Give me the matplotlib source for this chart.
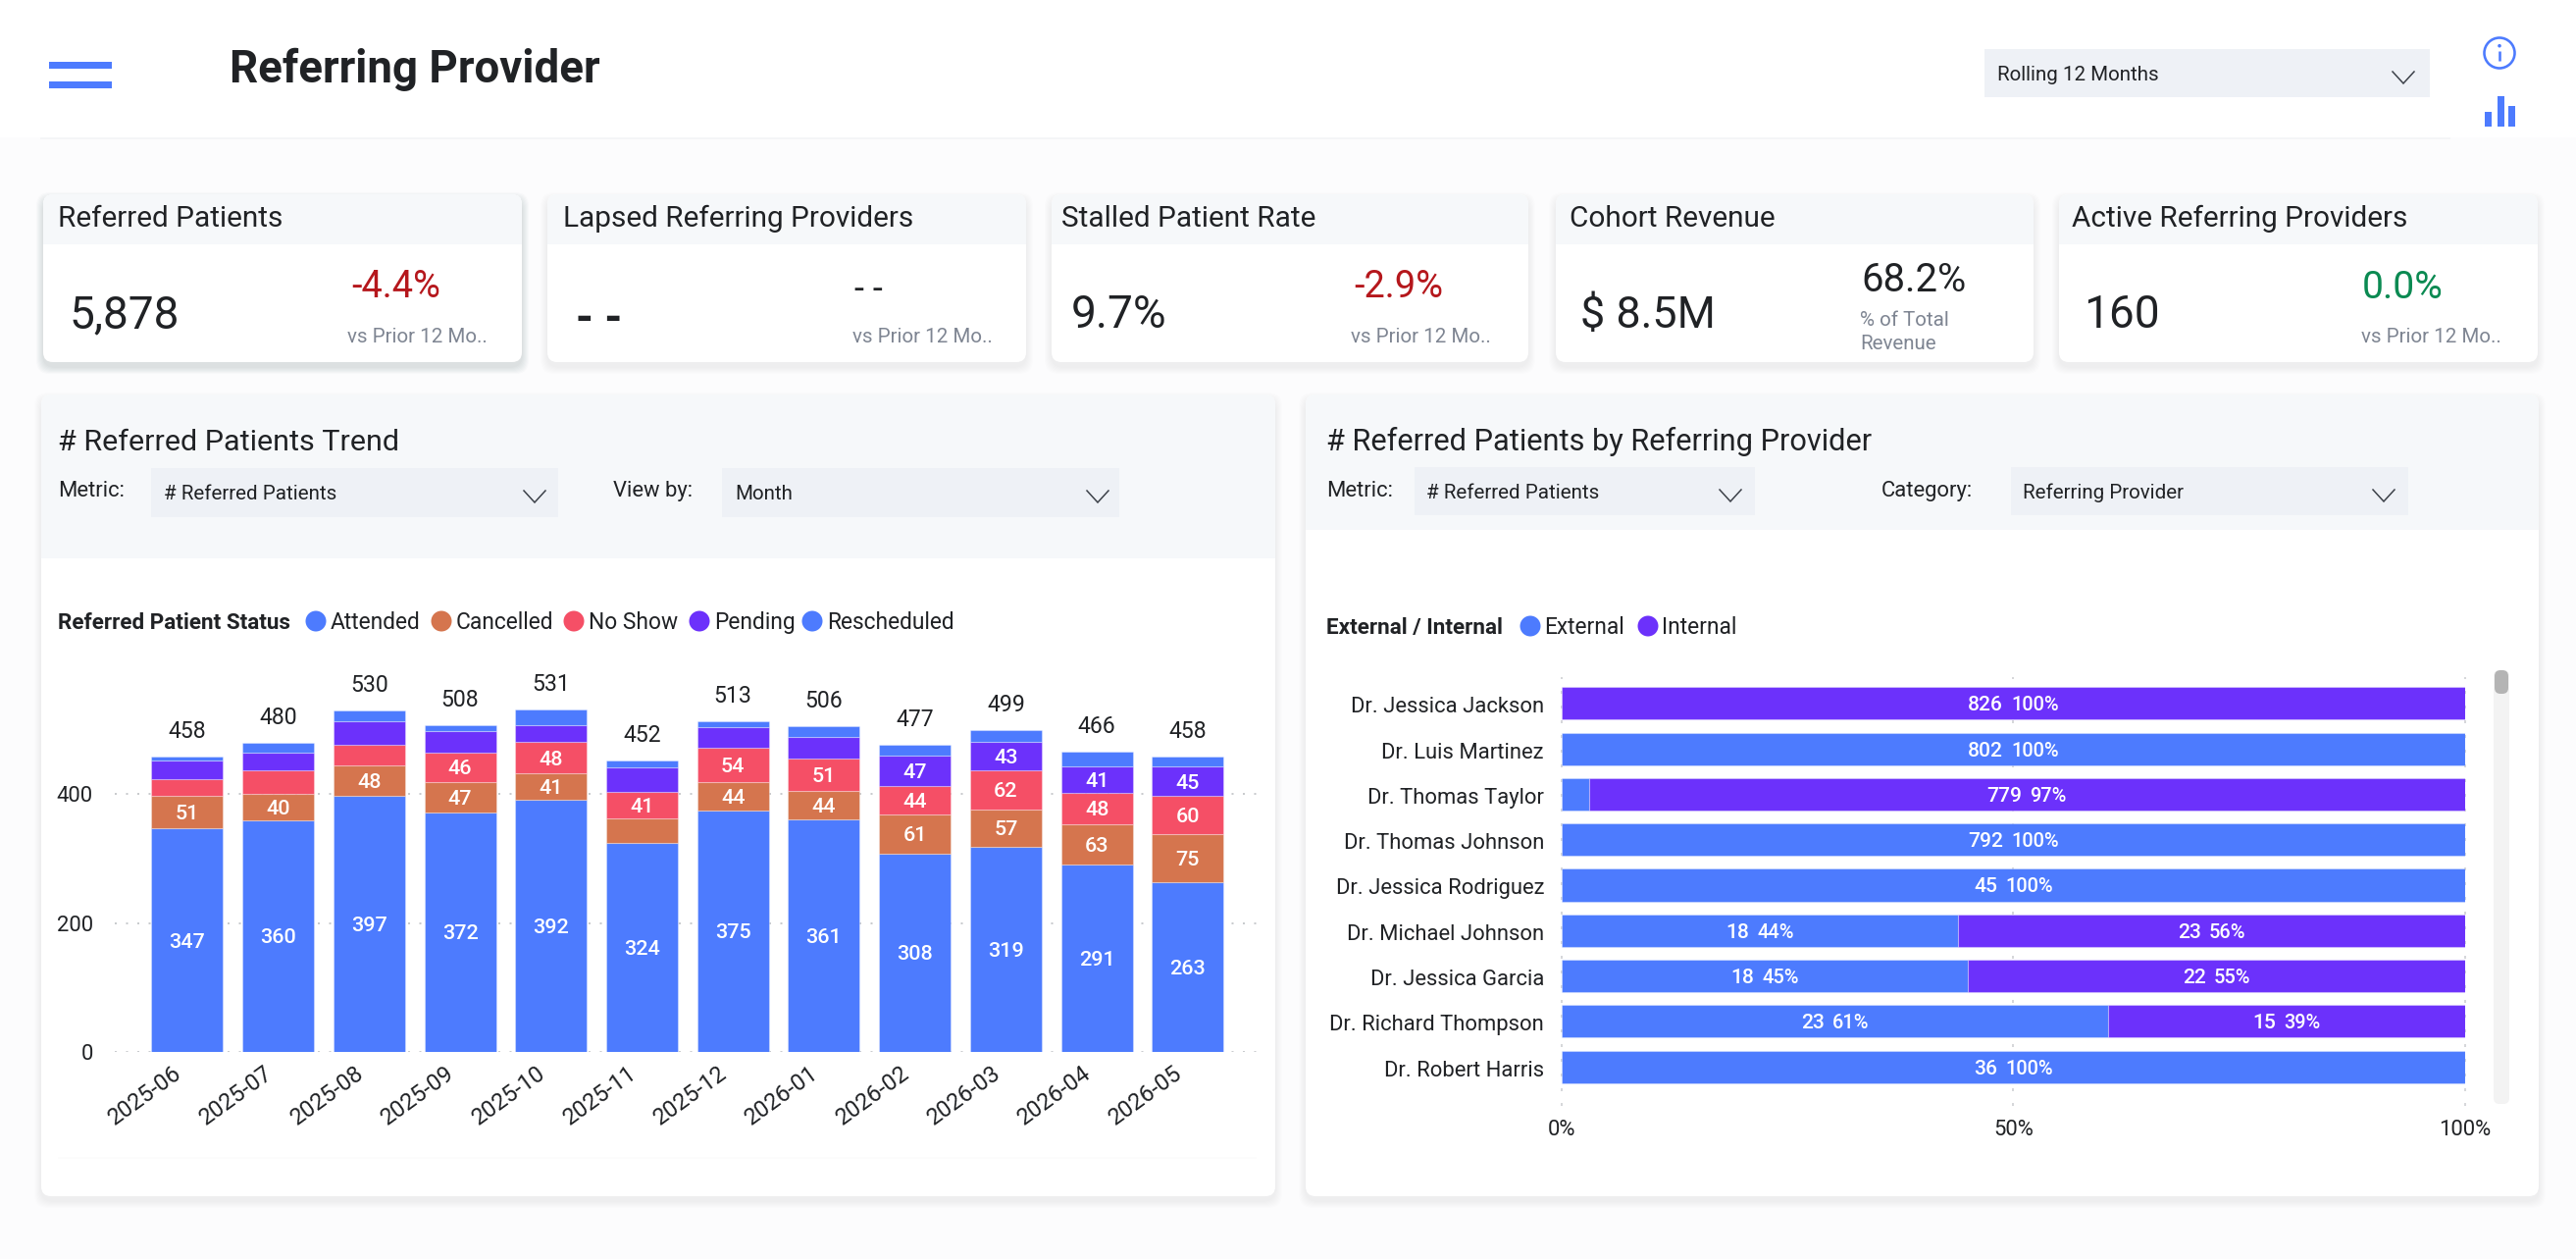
#!/usr/bin/env python
import matplotlib
matplotlib.use('Agg')
import matplotlib.pyplot as plt
import numpy as np
from matplotlib.patches import FancyBboxPatch, Rectangle, Circle
from matplotlib.transforms import ScaledTranslation

W, H = 2626, 1283

months = ['2025-06', '2025-07', '2025-08', '2025-09', '2025-10', '2025-11',
          '2025-12', '2026-01', '2026-02', '2026-03', '2026-04', '2026-05']
attended = [347, 360, 397, 372, 392, 324, 375, 361, 308, 319, 291, 263]
cancelled = [51, 40, 48, 47, 41, 39, 44, 44, 61, 57, 63, 75]
no_show = [26, 38, 32, 46, 48, 41, 54, 51, 44, 62, 48, 60]
pending = [28, 27, 36, 33, 27, 38, 32, 33, 47, 43, 41, 45]
rescheduled = [6, 15, 17, 10, 23, 10, 8, 17, 17, 18, 23, 15]
y_ticks = [0, 200, 400]

providers = ['Dr. Jessica Jackson', 'Dr. Luis Martinez', 'Dr. Thomas Taylor',
             'Dr. Thomas Johnson', 'Dr. Jessica Rodriguez', 'Dr. Michael Johnson',
             'Dr. Jessica Garcia', 'Dr. Richard Thompson', 'Dr. Robert Harris']
external = [0, 802, 24, 792, 45, 18, 18, 23, 36]
internal = [826, 0, 779, 0, 0, 23, 22, 15, 0]

BLUE = '#4D7BFE'
ORANGE = '#D5754E'
RED = '#F54F66'
PURPLE = '#6C31FB'
INK = '#202225'
GREY = '#7E8592'
HEAD = '#F6F8FA'
DROP = '#EEF1F6'
SEAM = (1, 1, 1, 0.3)

plt.rcParams['font.family'] = ['Roboto', 'DejaVu Sans']
fig = plt.figure(figsize=(W / 100, H / 100), dpi=100, facecolor='#FCFCFD')

# page layer, in pixel coordinates with y going down
bg = fig.add_axes([0, 0, 1, 1], zorder=0)
bg.set_xlim(0, W)
bg.set_ylim(H, 0)
bg.axis('off')


def pt(px):
    return px * 0.72


def txt(x, y, s, size, color=INK, weight='normal', ha='left'):
    # y is the middle of the capitals
    return bg.text(x, y + 0.355 * size, s, fontsize=pt(size), color=color,
                   weight=weight, ha=ha, va='baseline')


def card(x0, y0, x1, y1, head_to, shadow=0.006):
    for grow in range(14, 0, -2):
        bg.add_patch(FancyBboxPatch((x0 - grow / 2, y0 - grow / 2 + 5), x1 - x0 + grow, y1 - y0 + grow,
                                    boxstyle='round,pad=0,rounding_size=14', fc='#20304A',
                                    ec='none', alpha=shadow))
    face = FancyBboxPatch((x0, y0), x1 - x0, y1 - y0, boxstyle='round,pad=0,rounding_size=10',
                          fc='white', ec='none')
    bg.add_patch(face)
    top = Rectangle((x0, y0), x1 - x0, head_to - y0, fc=HEAD, ec='none')
    bg.add_patch(top)
    top.set_clip_path(face)


def chevron(x, y):
    bg.plot([x - 11, x, x + 11], [y - 6, y + 6, y - 6], color='#3A3F47', lw=pt(1.5),
            solid_joinstyle='miter')


def dropdown(x0, y0, x1, y1, label, label_x, label_y, chev_x, chev_y):
    bg.add_patch(Rectangle((x0, y0), x1 - x0, y1 - y0, fc=DROP, ec='none'))
    txt(label_x, label_y, label, 20.5)
    chevron(chev_x, chev_y)


# header strip
bg.add_patch(Rectangle((0, 0), W, 140, fc='white', ec='none'))
bg.plot([42, 2497], [140.5, 140.5], color='#F4F5F7', lw=pt(2))
for y0 in (63, 83):
    bg.add_patch(Rectangle((50, y0), 64, 6.5, fc=BLUE, ec='none'))
txt(234, 68, 'Referring Provider', 45.7, weight='bold')
dropdown(2023, 50, 2477, 99, 'Rolling 12 Months', 2036, 75, 2450, 79)

# info and chart icons
bg.add_patch(Circle((2548, 54), 15.5, fc='none', ec=BLUE, lw=pt(2.6)))
bg.plot([2548, 2548], [51.7, 61.7], color=BLUE, lw=pt(2.6), solid_capstyle='butt')
bg.add_patch(Circle((2548, 46.7), 1.8, fc=BLUE, ec='none'))
for x0, y0 in ((2533, 114), (2545.7, 97.7), (2557.3, 107.7)):
    bg.add_patch(Rectangle((x0, y0), 7, 129.3 - y0, fc=BLUE, ec='none'))

# KPI cards
card(44, 198, 532, 369, 249, shadow=0.018)
card(558, 198, 1046, 369, 249)
card(1072, 198, 1558, 369, 249)
card(1586, 198, 2073, 369, 249)
card(2099, 198, 2587, 369, 249)

txt(59, 220, 'Referred Patients', 29.7)
txt(574, 220, 'Lapsed Referring Providers', 29.7)
txt(1082, 220, 'Stalled Patient Rate', 29.7)
txt(1600, 220, 'Cohort Revenue', 29.7)
txt(2112, 220, 'Active Referring Providers', 29.7)

txt(71, 318, '5,878', 46)
txt(587, 323, '- -', 46, weight='bold')
txt(1092, 318, '9.7%', 46)
txt(1611, 318, '$ 8.5M', 45)
txt(2124, 318, '160', 46)

txt(358, 290, '-4.4%', 38, color='#B5171C')
txt(871, 293, '- -', 36)
txt(1380, 290, '-2.9%', 38, color='#B5171C')
txt(1897, 283, '68.2%', 40)
txt(2408, 290, '0.0%', 39, color='#0B8A52')

for x in (354, 869, 1377, 2407):
    txt(x, 342, 'vs Prior 12 Mo..', 20.5, color=GREY)
txt(1896, 325, '% of Total', 20.5, color=GREY)
txt(1896, 349, 'Revenue', 20.5, color=GREY)

# chart panels
card(42, 402, 1300, 1219, 569)
card(1331, 402, 2588, 1219, 540)
bg.plot([60, 1280], [1180, 1180], color='#FCFCFC', lw=pt(2))

txt(59, 448, '# Referred Patients Trend', 30.5)
txt(59, 498, 'Metric:', 22)
dropdown(154, 477, 569, 527, '# Referred Patients', 167, 502, 545, 506)
txt(625, 498, 'View by:', 22)
dropdown(736, 477, 1141, 527, 'Month', 749, 502, 1119, 506)

txt(1352, 448, '# Referred Patients by Referring Provider', 30.8)
txt(1352, 498, 'Metric:', 22)
dropdown(1442, 476, 1789, 525, '# Referred Patients', 1454, 501, 1764, 505)
txt(1918, 498, 'Category:', 22)
dropdown(2050, 476, 2455, 525, 'Referring Provider', 2062, 501, 2430, 505)

# legends
txt(59, 633, 'Referred Patient Status', 22.5, weight='bold')
status = ['Attended', 'Cancelled', 'No Show', 'Pending', 'Rescheduled']
status_colors = [BLUE, ORANGE, RED, PURPLE, BLUE]
status_x = [322, 450, 585, 713, 828]
for name, col, x in zip(status, status_colors, status_x):
    bg.add_patch(Circle((x, 633), 10.5, fc=col, ec='none'))
    txt(x + 15, 633, name, 22.8)

txt(1352, 638, 'External / Internal', 22.5, weight='bold')
for name, col, x in zip(['External', 'Internal'], [BLUE, PURPLE], [1560, 1680]):
    bg.add_patch(Circle((x, 638), 10.5, fc=col, ec='none'))
    txt(x + 14, 638, name, 22.8)

# scrollbar next to the provider rows
bg.add_patch(FancyBboxPatch((2542, 683), 16, 442, boxstyle='round,pad=0,rounding_size=6',
                            fc='#F3F3F3', ec='none'))
bg.add_patch(FancyBboxPatch((2543, 683), 14, 24, boxstyle='round,pad=0,rounding_size=6',
                            fc='#B4B4B4', ec='none'))


def chart_axes(x0, y0, x1, y1):
    ax = fig.add_axes([x0 / W, 1 - y1 / H, (x1 - x0) / W, (y1 - y0) / H], zorder=1)
    ax.patch.set_alpha(0)
    for s in ax.spines.values():
        s.set_visible(False)
    return ax


def nudge(label, dx, dy):
    # shift a tick label by pixels, y going up
    label.set_transform(label.get_transform() + ScaledTranslation(dx / 100, dy / 100, fig.dpi_scale_trans))


# stacked monthly bars
ax = chart_axes(117, 690, 1286, 1072)
ax.set_xlim(-0.797, 11.81)
ax.set_ylim(0, 582)
pos = np.arange(len(months))
base = np.zeros(len(months))
series = [attended, cancelled, no_show, pending, rescheduled]
for vals, col in zip(series, status_colors):
    vals = np.array(vals)
    ax.bar(pos, vals, 0.787, bottom=base, color=col, edgecolor=SEAM, linewidth=0.8, zorder=2)
    for p, v, b in zip(pos, vals, base):
        if v >= 40:
            ax.text(p, b + v / 2, str(v), color='white', fontsize=pt(21.5), weight='medium',
                    ha='center', va='center_baseline', zorder=3)
    base += vals
for p, total in zip(pos, base):
    ax.annotate(str(int(total)), (p, total), xytext=(0, pt(14)), textcoords='offset points',
                ha='center', va='bottom', fontsize=pt(23), color=INK)
ax.set_yticks(y_ticks)
ax.yaxis.grid(True, color='#C9CBCE', linewidth=pt(2), linestyle=(0, (1, 4.75)), zorder=1)
ax.set_axisbelow(True)
ax.tick_params(axis='y', length=0, pad=pt(22), labelsize=pt(22), labelcolor=INK)
ax.set_xticks(pos)
ax.set_xticklabels(months, rotation=36, ha='right', va='top', rotation_mode='anchor',
                   fontsize=pt(23.5), color=INK)
ax.tick_params(axis='x', length=0, pad=pt(13))
for lab in ax.get_xticklabels():
    nudge(lab, -15, 3)

# 100% bars per provider
ax2 = chart_axes(1592, 690, 2512.6, 1127)
ax2.set_xlim(0, 1)
ax2.set_ylim(8.86, -0.579)
rows = np.arange(len(providers))
ext = np.array(external, dtype=float)
inn = np.array(internal, dtype=float)
share_ext = ext / (ext + inn)
share_int = inn / (ext + inn)
ax2.barh(rows, share_ext, 0.713, color=BLUE, edgecolor=SEAM, linewidth=0.8, zorder=2)
ax2.barh(rows, share_int, 0.713, left=share_ext, color=PURPLE, edgecolor=SEAM, linewidth=0.8, zorder=2)
ax2.set_yticks(rows)
ax2.set_yticklabels(providers, fontsize=pt(22), color=INK)
ax2.tick_params(axis='y', length=0, pad=pt(18))
for lab in ax2.get_yticklabels():
    nudge(lab, 0, -1.5)
ax2.set_xticks([0, 0.5, 1])
ax2.set_xticklabels(['0%', '50%', '100%'], fontsize=pt(22), color=INK)
ax2.tick_params(axis='x', length=0, pad=pt(14))
ax2.xaxis.grid(True, color='#C9CBCE', linewidth=pt(1.5), linestyle=(0, (2, 8)), zorder=1)
ax2.set_axisbelow(True)
for line in ax2.get_xgridlines():
    line.set_clip_on(False)

renderer = fig.canvas.get_renderer()


def pair_label(x, row, value, pct):
    # count and share sit side by side, centred together on x
    a = ax2.annotate(str(int(value)), (x, row), xytext=(0, 0), textcoords='offset points',
                     color='white', fontsize=pt(21), weight='medium', ha='left',
                     va='center_baseline', zorder=3)
    b = ax2.annotate(pct, (x, row), xytext=(0, 0), textcoords='offset points',
                     color='white', fontsize=pt(20), weight='medium', ha='left',
                     va='center_baseline', zorder=3)
    wa = a.get_window_extent(renderer).width
    wb = b.get_window_extent(renderer).width
    gap = 8
    start = -(wa + gap + wb) / 2
    a.set_position((pt(start), 0))
    b.set_position((pt(start + wa + gap), 0))


for r in rows:
    if share_ext[r] > 0.05:
        pair_label(share_ext[r] / 2, r, ext[r], f'{share_ext[r] * 100:.0f}%')
    if share_int[r] > 0.05:
        pair_label(share_ext[r] + share_int[r] / 2, r, inn[r], f'{share_int[r] * 100:.0f}%')

fig.savefig('out.png', dpi=100, facecolor=fig.get_facecolor())
